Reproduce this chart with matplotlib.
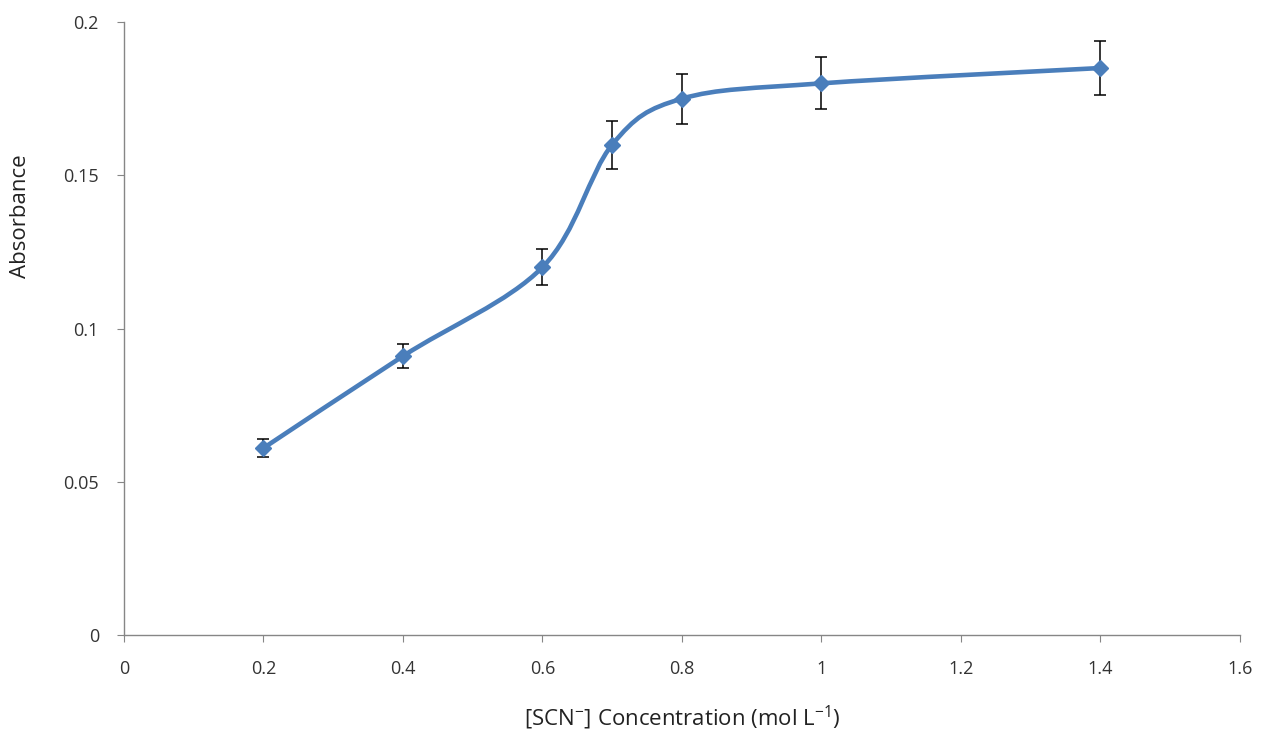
import numpy as np
import matplotlib
matplotlib.use("Agg")
import matplotlib.pyplot as plt
from matplotlib.path import Path
from matplotlib.patches import PathPatch

conc = [0.2, 0.4, 0.6, 0.7, 0.8, 1.0, 1.4]
absorbance = [0.061, 0.091, 0.120, 0.160, 0.175, 0.180, 0.185]
err = [0.003, 0.004, 0.0058, 0.0078, 0.0082, 0.0085, 0.0088]
xticks = [0, 0.2, 0.4, 0.6, 0.8, 1, 1.2, 1.4, 1.6]
yticks = [0, 0.05, 0.1, 0.15, 0.2]

plt.rcParams['font.family'] = ['Open Sans', 'DejaVu Sans']
plt.rcParams['mathtext.fontset'] = 'custom'
plt.rcParams['mathtext.rm'] = 'Open Sans'
color = '#4A7EBB'

fig = plt.figure(figsize=(12.61, 7.35), dpi=100)
ax = fig.add_axes([0.0983, 0.136, 0.885, 0.834])

# Excel-style smoothed line (Catmull-Rom Bezier)
x = np.array(conc); y = np.array(absorbance)
n = len(x)
verts = [(x[0], y[0])]
codes = [Path.MOVETO]
for i in range(n - 1):
    p0 = np.array([x[max(i - 1, 0)], y[max(i - 1, 0)]])
    p1 = np.array([x[i], y[i]])
    p2 = np.array([x[i + 1], y[i + 1]])
    p3 = np.array([x[min(i + 2, n - 1)], y[min(i + 2, n - 1)]])
    c1 = p1 + (p2 - p0) / 6
    c2 = p2 - (p3 - p1) / 6
    verts += [tuple(c1), tuple(c2), tuple(p2)]
    codes += [Path.CURVE4] * 3
ax.add_patch(PathPatch(Path(verts, codes), facecolor='none', edgecolor=color,
                       lw=3.3, capstyle='round', joinstyle='round', zorder=2))

ax.errorbar(conc, absorbance, yerr=err, fmt='none', ecolor='black',
            elinewidth=1.1, capsize=4.5, capthick=1.1, zorder=3)
ax.plot(conc, absorbance, linestyle='none', marker='D', markersize=8,
        color=color, zorder=4)

ax.set_xlim(0, 1.6)
ax.set_ylim(0, 0.2)
ax.set_xticks(xticks)
ax.set_xticklabels(['0', '0.2', '0.4', '0.6', '0.8', '1', '1.2', '1.4', '1.6'])
ax.set_yticks(yticks)
ax.set_yticklabels(['0', '0.05', '0.1', '0.15', '0.2'])
for s in ['top', 'right']:
    ax.spines[s].set_visible(False)
for s in ['left', 'bottom']:
    ax.spines[s].set_color('#868686')
    ax.spines[s].set_linewidth(1)
ax.tick_params(axis='both', colors='#868686', labelcolor='#333333',
               labelsize=13, length=5, direction='out')
ax.tick_params(axis='x', pad=13)
ax.tick_params(axis='y', pad=13)
ax.set_xlabel('[SCN$^{\\mathregular{-}}$] Concentration (mol L$^{\\mathregular{-1}}$)',
              fontsize=16, color='#222222')
ax.set_ylabel('Absorbance', fontsize=16, color='#222222')
ax.xaxis.set_label_coords(0.5, -0.112)
ax.yaxis.set_label_coords(-0.0833, 0.684)

fig.savefig('out.png', dpi=100)
